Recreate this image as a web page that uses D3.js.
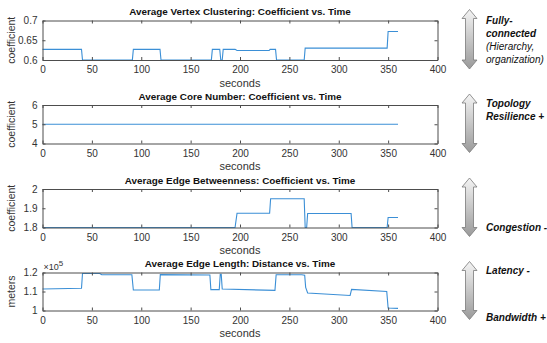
<!DOCTYPE html>
<html>
<head>
<meta charset="utf-8">
<script src="https://cdn.jsdelivr.net/npm/d3@7"></script>
<style>
html,body{margin:0;padding:0;background:#fff;}
svg{display:block;font-family:"Liberation Sans",Arial,sans-serif;}
</style>
</head>
<body>
<svg id="chart" width="547" height="343"></svg>
<script>
// ---------- DATA ----------
const xTicks = [0, 50, 100, 150, 200, 250, 300, 350, 400];

const clusterT = [0, 39.5, 40.5, 91, 92, 119, 120, 171, 172, 179.5, 180.5, 182, 183, 195, 197, 229.5, 230.5, 236, 237, 265, 266, 349, 350, 360];
const clusterV = [0.627, 0.627, 0.600, 0.600, 0.627, 0.627, 0.600, 0.600, 0.627, 0.627, 0.600, 0.600, 0.627, 0.627, 0.624, 0.624, 0.627, 0.627, 0.600, 0.600, 0.630, 0.630, 0.672, 0.672];
const clusterTicks = [0.6, 0.65, 0.7];

const coreT = [0, 360];
const coreV = [5, 5];
const coreTicks = [4, 5, 6];

const betwT = [0, 195, 197, 230, 231, 265, 266, 267.5, 268.5, 312.5, 313.5, 349, 350, 360];
const betwV = [1.8, 1.8, 1.874, 1.874, 1.949, 1.949, 1.8, 1.8, 1.873, 1.873, 1.8, 1.8, 1.852, 1.852];
const betwTicks = [1.8, 1.9, 2];

const lenT = [0, 39.5, 40.5, 58, 60, 90.5, 92, 118.3, 119.3, 169.5, 170.5, 179, 180, 181, 182, 235.4, 236.6, 262.5, 265.5, 266.5, 268.5, 311.5, 313, 348.6, 350, 360];
const lenV = [1.113, 1.117, 1.195, 1.195, 1.188, 1.188, 1.108, 1.108, 1.189, 1.187, 1.110, 1.110, 1.190, 1.190, 1.113, 1.106, 1.188, 1.188, 1.186, 1.122, 1.092, 1.079, 1.111, 1.100, 1.013, 1.011];
const lenTicks = [1, 1.1, 1.2];

const titles = [
  "Average Vertex Clustering: Coefficient vs. Time",
  "Average Core Number: Coefficient vs. Time",
  "Average Edge Betweenness: Coefficient vs. Time",
  "Average Edge Length: Distance vs. Time"
];
const yLabels = ["coefficient", "coefficient", "coefficient", "meters"];

const sideNotes = [
  [{t: "Fully-", b: true}, {t: "connected", b: true}, {t: "(Hierarchy,", b: false}, {t: "organization)", b: false}],
  [{t: "Topology", b: true}, {t: "Resilience +", b: true}],
  [{t: "Congestion -", b: true}],
  [{t: "Latency -", b: true}, {t: "Bandwidth +", b: true}]
];

// ---------- LAYOUT ----------
const svg = d3.select("#chart");
const left = 42.5, right = 437.5;
const panels = [
  {top: 20.5, bottom: 60, t: clusterT, v: clusterV, ticks: clusterTicks, dom: [0.6, 0.7], fmt: d => String(d)},
  {top: 105, bottom: 143.5, t: coreT, v: coreV, ticks: coreTicks, dom: [4, 6], fmt: d => String(d)},
  {top: 189, bottom: 227.5, t: betwT, v: betwV, ticks: betwTicks, dom: [1.8, 2], fmt: d => String(d)},
  {top: 272.5, bottom: 310.5, t: lenT, v: lenV, ticks: lenTicks, dom: [1, 1.2], fmt: d => String(d), exp: true}
];

const x = d3.scaleLinear().domain([0, 400]).range([left, right]);
const axisColor = "#4d4d4d";
const textColor = "#333";
const lineColor = "#3b8fd6";

// gradient for arrows
const defs = svg.append("defs");
const grad = defs.append("linearGradient").attr("id", "ag").attr("x1", 0).attr("y1", 0).attr("x2", 0).attr("y2", 1);
grad.append("stop").attr("offset", "0%").attr("stop-color", "#f4f4f4");
grad.append("stop").attr("offset", "100%").attr("stop-color", "#9a9a9a");

panels.forEach((p, i) => {
  const y = d3.scaleLinear().domain(p.dom).range([p.bottom, p.top]);
  const g = svg.append("g");

  // data line
  const pts = p.t.map((t, k) => [t, p.v[k]]);
  g.append("path")
    .datum(pts)
    .attr("fill", "none")
    .attr("stroke", lineColor)
    .attr("stroke-width", 1.1)
    .attr("d", d3.line().x(d => x(d[0])).y(d => y(d[1])));

  // axes
  const bottomAxis = d3.axisBottom(x).tickValues(xTicks).tickSizeInner(-3).tickSizeOuter(0).tickPadding(6);
  const topAxis = d3.axisTop(x).tickValues(xTicks).tickSizeInner(-3).tickSizeOuter(0).tickFormat("");
  const leftAxis = d3.axisLeft(y).tickValues(p.ticks).tickSizeInner(-3).tickSizeOuter(0).tickPadding(5).tickFormat(p.fmt);
  const rightAxis = d3.axisRight(y).tickValues(p.ticks).tickSizeInner(-3).tickSizeOuter(0).tickFormat("");

  const gb = g.append("g").attr("transform", `translate(0,${p.bottom})`).call(bottomAxis);
  const gt = g.append("g").attr("transform", `translate(0,${p.top})`).call(topAxis);
  const gl = g.append("g").attr("transform", `translate(${left},0)`).call(leftAxis);
  const gr = g.append("g").attr("transform", `translate(${right},0)`).call(rightAxis);
  [gb, gt, gl, gr].forEach(a => {
    a.selectAll("path.domain").attr("stroke", axisColor).attr("stroke-width", 1);
    a.selectAll(".tick line").attr("stroke", axisColor);
    a.selectAll(".tick text").attr("fill", textColor).style("font-size", "10px").style("font-family", '"Liberation Sans", Arial, sans-serif');
  });

  // title
  g.append("text")
    .attr("x", (left + right) / 2)
    .attr("y", p.top - 5.5)
    .attr("text-anchor", "middle")
    .attr("font-weight", "bold")
    .attr("font-size", 9.9)
    .attr("fill", "#111")
    .text(titles[i]);

  // x label
  g.append("text")
    .attr("x", (left + right) / 2)
    .attr("y", p.bottom + 26.5)
    .attr("text-anchor", "middle")
    .attr("font-size", 11)
    .attr("fill", textColor)
    .text("seconds");

  // y label
  g.append("text")
    .attr("transform", `translate(15,${(p.top + p.bottom) / 2}) rotate(-90)`)
    .attr("text-anchor", "middle")
    .attr("font-size", 10.5)
    .attr("fill", textColor)
    .text(yLabels[i]);

  if (p.exp) {
    const et = g.append("text").attr("x", left + 1).attr("y", p.top - 3).attr("font-size", 9).attr("fill", textColor);
    et.append("tspan").text("\u00d710");
    et.append("tspan").attr("dy", -4).attr("font-size", 8).text("5");
  }

  // side arrow
  const ax = 469.5, aTop = p.top - 11, aBot = p.bottom + 9;
  const hw = 7.5, sw = 4, hh = 9;
  const arrow = `M${ax},${aTop} L${ax + hw},${aTop + hh} L${ax + sw},${aTop + hh} L${ax + sw},${aBot - hh} L${ax + hw},${aBot - hh} L${ax},${aBot} L${ax - hw},${aBot - hh} L${ax - sw},${aBot - hh} L${ax - sw},${aTop + hh} L${ax - hw},${aTop + hh} Z`;
  svg.append("path").attr("d", arrow).attr("fill", "url(#ag)").attr("stroke", "#7a7a7a").attr("stroke-width", 0.8);
});

// side notes
const notePos = [
  [20, 33, 46, 59],
  [103, 116],
  [227],
  [270, 317]
];
sideNotes.forEach((lines, i) => {
  lines.forEach((l, k) => {
    svg.append("text")
      .attr("x", 486)
      .attr("y", notePos[i][k] + 3.5)
      .attr("font-size", 10)
      .attr("font-style", "italic")
      .attr("font-weight", l.b ? "bold" : "normal")
      .attr("fill", "#111")
      .text(l.t);
  });
});
</script>
</body>
</html>
